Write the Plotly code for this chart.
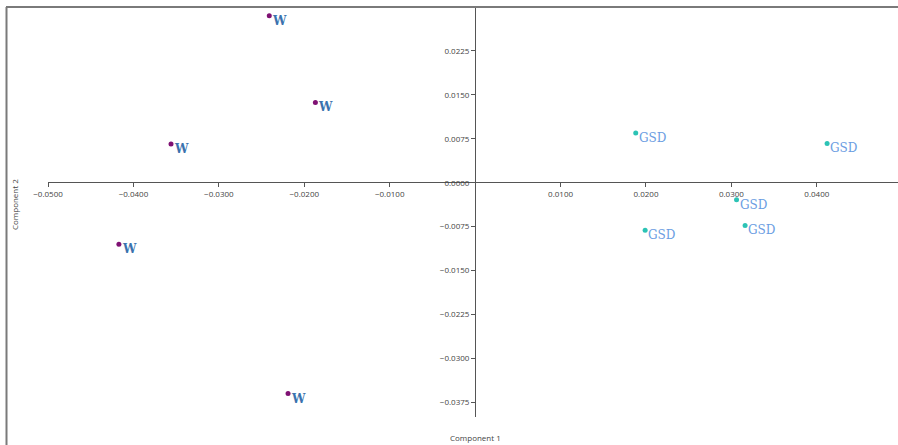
import plotly.graph_objects as go

# ---- data ----
w_x = [-0.0241, -0.0187, -0.0356, -0.0417, -0.0219]
w_y = [0.0285, 0.0137, 0.0066, -0.0105, -0.0360]
w_labels = ["W", "W", "W", "W", "W"]

gsd_x = [0.0188, 0.0412, 0.0306, 0.0199, 0.0316]
gsd_y = [0.0085, 0.0067, -0.0029, -0.0081, -0.0073]
gsd_labels = ["GSD", "GSD", "GSD", "GSD", "GSD"]

x_ticks = [-0.05, -0.04, -0.03, -0.02, -0.01, 0.01, 0.02, 0.03, 0.04]
y_ticks = [-0.0375, -0.03, -0.0225, -0.015, -0.0075, 0.0, 0.0075, 0.015, 0.0225]

x_range = [-0.05, 0.0495]
y_range = [-0.04, 0.03]

W, H = 898, 445

fig = go.Figure()
fig.add_trace(go.Scatter(
    x=w_x, y=w_y, mode="markers",
    marker=dict(color="#7f1173", size=5),
    cliponaxis=False, showlegend=False, hoverinfo="skip",
))
fig.add_trace(go.Scatter(
    x=gsd_x, y=gsd_y, mode="markers",
    marker=dict(color="#2cc3b5", size=5),
    cliponaxis=False, showlegend=False, hoverinfo="skip",
))

annotations = []
for xs, ys, labels, color, bold in [(w_x, w_y, w_labels, "#3a72ae", True),
                                     (gsd_x, gsd_y, gsd_labels, "#6b9de2", False)]:
    for x, y, t in zip(xs, ys, labels):
        annotations.append(dict(
            x=x, y=y, xref="x", yref="y",
            text=f"<b>{t}</b>" if bold else t, showarrow=False,
            xanchor="left", yanchor="middle", xshift=1, yshift=-5,
            font=dict(family="DejaVu Serif", size=12, color=color),
        ))

annotations += [
    dict(text="Component 1", xref="paper", yref="paper",
         x=475 / W, y=1 - 437 / H, xanchor="center", yanchor="middle",
         showarrow=False,
         font=dict(family="Open Sans", size=8, color="#444444")),
    dict(text="Component 2", xref="paper", yref="paper",
         x=14 / W, y=1 - 205 / H, xanchor="center", yanchor="middle",
         showarrow=False, textangle=-90,
         font=dict(family="Open Sans", size=8, color="#444444")),
]

tickfont = dict(family="Open Sans", size=8, color="#444444")

fig.update_layout(
    width=W, height=H, autosize=False,
    margin=dict(l=0, r=0, t=0, b=0, pad=0, autoexpand=False),
    paper_bgcolor="white", plot_bgcolor="white",
    xaxis=dict(
        domain=[48 / W, 1], range=x_range, anchor="free",
        position=1 - 182 / H, automargin=False,
        showgrid=False, zeroline=False, showline=True,
        linecolor="#555555", linewidth=1,
        ticks="outside", ticklen=4, tickcolor="#555555",
        tickvals=x_ticks, tickformat=".4f", tickfont=tickfont,
    ),
    yaxis=dict(
        domain=[1 - 417 / H, 1 - 7 / H], range=y_range, anchor="free",
        position=475 / W, automargin=False,
        showgrid=False, zeroline=False, showline=True,
        linecolor="#555555", linewidth=1,
        ticks="outside", ticklen=4, tickcolor="#555555",
        tickvals=y_ticks, tickformat=".4f", tickfont=tickfont,
    ),
    shapes=[
        dict(type="line", xref="paper", yref="paper",
             x0=6 / W, x1=1, y0=1 - 7 / H, y1=1 - 7 / H,
             line=dict(color="#7a7a7a", width=2)),
        dict(type="line", xref="paper", yref="paper",
             x0=6.5 / W, x1=6.5 / W, y0=0, y1=1 - 7 / H,
             line=dict(color="#7a7a7a", width=2)),
    ],
    annotations=annotations,
)

fig.write_html(
    "out.html",
    config={"displayModeBar": False},
    post_script="document.body.style.margin='0';document.body.style.padding='0';",
)
